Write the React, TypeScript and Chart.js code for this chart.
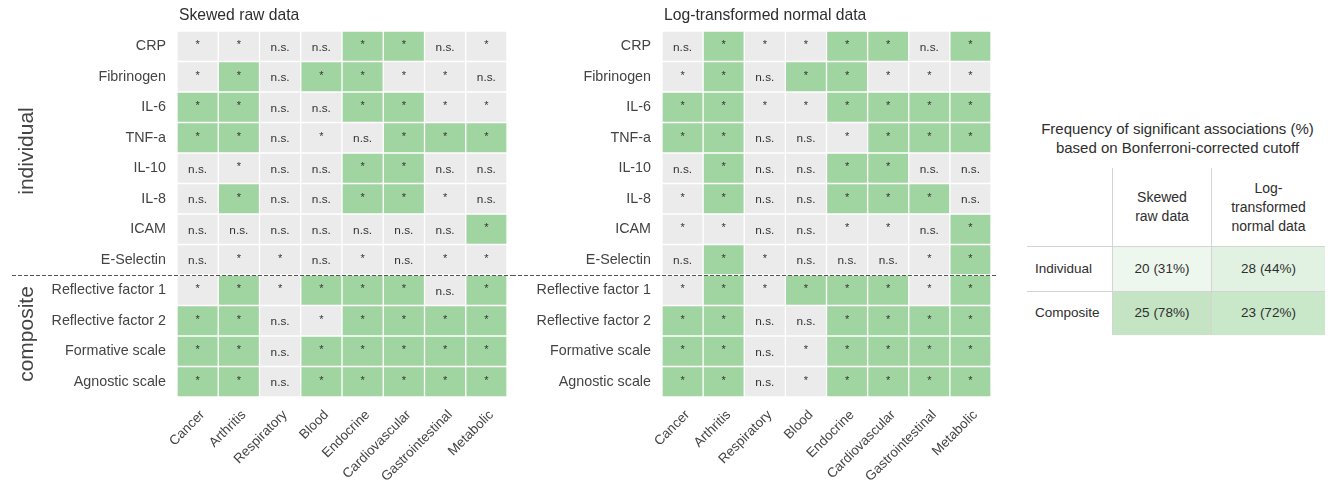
import React, { useEffect, useRef } from 'react';
import { Chart, registerables } from 'chart.js';

Chart.register(...registerables);

// Disease groups (columns) and inflammatory markers (rows)
const diseases = ['Cancer', 'Arthritis', 'Respiratory', 'Blood', 'Endocrine', 'Cardiovascular', 'Gastrointestinal', 'Metabolic'];
const markers = [
  'CRP', 'Fibrinogen', 'IL-6', 'TNF-a', 'IL-10', 'IL-8', 'ICAM', 'E-Selectin',
  'Reflective factor 1', 'Reflective factor 2', 'Formative scale', 'Agnostic scale',
];
const individualRows = 8; // first 8 rows are individual markers, the rest composites

// 2 = significant at Bonferroni-corrected cutoff, 1 = nominally significant (*), 0 = n.s.
const skewedRaw = [
  [1, 1, 0, 0, 2, 2, 0, 1],
  [1, 2, 0, 2, 2, 1, 1, 0],
  [2, 2, 0, 0, 2, 2, 1, 1],
  [2, 2, 0, 1, 0, 2, 2, 2],
  [0, 1, 0, 0, 2, 2, 0, 0],
  [0, 2, 0, 0, 2, 2, 1, 0],
  [0, 0, 0, 0, 0, 0, 0, 2],
  [0, 1, 1, 0, 1, 0, 1, 1],
  [1, 2, 1, 2, 2, 2, 0, 2],
  [2, 2, 0, 1, 2, 2, 2, 2],
  [2, 2, 0, 2, 2, 2, 2, 2],
  [2, 2, 0, 2, 2, 2, 2, 2],
];

const logNormal = [
  [0, 2, 1, 1, 2, 2, 0, 2],
  [1, 2, 0, 2, 2, 1, 1, 1],
  [2, 2, 1, 1, 2, 2, 2, 2],
  [2, 2, 0, 0, 1, 2, 2, 2],
  [0, 2, 0, 0, 2, 2, 0, 0],
  [1, 2, 0, 0, 2, 2, 2, 0],
  [1, 1, 0, 0, 1, 1, 0, 2],
  [0, 2, 1, 0, 0, 0, 1, 2],
  [1, 2, 1, 2, 2, 2, 1, 2],
  [2, 2, 0, 0, 2, 2, 2, 2],
  [2, 2, 0, 1, 2, 2, 2, 2],
  [2, 2, 0, 1, 2, 2, 2, 2],
];

const GREEN = '#a0d4a0';
const GRAY = '#ebebeb';
const FONT = '"Liberation Sans", Arial, Helvetica, sans-serif';

type HeatmapProps = {
  title: string;
  rows: number[][];
  left: number;
  width: number;
  axisWidth: number;
  showGroups: boolean;
  lineFrom: number;
};

function Heatmap({ title, rows, left, width, axisWidth, showGroups, lineFrom }: HeatmapProps) {
  const ref = useRef<HTMLCanvasElement | null>(null);

  useEffect(() => {
    if (!ref.current) return;

    const annotations = {
      id: 'annotations',
      afterDatasetsDraw(chart: any) {
        const { ctx, scales, chartArea } = chart;
        const x = scales.x;
        const y = scales.y;
        ctx.save();
        // cell labels
        ctx.fillStyle = '#333';
        ctx.textAlign = 'center';
        ctx.textBaseline = 'middle';
        rows.forEach((row, i) => {
          row.forEach((v, j) => {
            const cx = x.getPixelForValue(j + 0.5);
            const cy = y.getPixelForValue(i);
            if (v > 0) {
              ctx.font = `11px ${FONT}`;
              ctx.fillText('*', cx, cy - 1);
            } else {
              ctx.font = `11.8px ${FONT}`;
              ctx.fillText('n.s.', cx, cy + 1);
            }
          });
        });
        // dashed separator between individual and composite markers
        const sepY = Math.round((y.getPixelForValue(individualRows - 1) + y.getPixelForValue(individualRows)) / 2) + 0.5;
        ctx.strokeStyle = '#555';
        ctx.lineWidth = 1;
        ctx.setLineDash([4, 2]);
        ctx.beginPath();
        ctx.moveTo(lineFrom, sepY);
        ctx.lineTo(chart.width, sepY);
        ctx.stroke();
        ctx.setLineDash([]);
        // panel title
        ctx.fillStyle = '#2e2e2e';
        ctx.font = `15.7px ${FONT}`;
        ctx.textAlign = 'left';
        ctx.textBaseline = 'alphabetic';
        ctx.fillText(title, chartArea.left + 2, 20);
        // group labels
        if (showGroups) {
          ctx.fillStyle = '#444';
          ctx.font = `21px ${FONT}`;
          ctx.textAlign = 'center';
          const groups = [
            { text: 'individual', from: 0, to: individualRows - 1 },
            { text: 'composite', from: individualRows, to: markers.length - 1 },
          ];
          groups.forEach((g) => {
            const cy = (y.getPixelForValue(g.from) + y.getPixelForValue(g.to)) / 2;
            ctx.save();
            ctx.translate(33, cy - 2);
            ctx.rotate(-Math.PI / 2);
            ctx.fillText(g.text, 0, 0);
            ctx.restore();
          });
        }
        ctx.restore();
      },
    };

    const chart = new Chart(ref.current, {
      type: 'bar',
      data: {
        labels: markers,
        datasets: diseases.map((d, j) => ({
          label: d,
          data: markers.map(() => 1),
          backgroundColor: rows.map((r) => (r[j] === 2 ? GREEN : GRAY)),
          borderColor: 'rgba(255,255,255,0.4)',
          borderWidth: 1,
          borderSkipped: false,
          barPercentage: 1,
          categoryPercentage: 1,
        })),
      },
      options: {
        indexAxis: 'y',
        animation: false,
        responsive: false,
        devicePixelRatio: 1,
        layout: { padding: { top: 31, right: 5, left: 0, bottom: 0 } },
        plugins: {
          legend: { display: false },
          tooltip: { enabled: false },
          title: { display: false },
        },
        scales: {
          x: {
            type: 'linear',
            stacked: true,
            min: 0,
            max: diseases.length,
            grid: { display: false, drawTicks: false, tickLength: 0 },
            border: { display: false },
            afterBuildTicks: (s: any) => {
              s.ticks = diseases.map((_, i) => ({ value: i + 0.5 }));
            },
            afterFit: (s: any) => {
              s.height = 88;
            },
            ticks: {
              autoSkip: false,
              maxRotation: 45,
              minRotation: 45,
              padding: 10,
              labelOffset: 5,
              color: '#444',
              font: { family: FONT, size: 13.5 },
              callback: (v: any) => diseases[Math.floor(Number(v))],
            },
          },
          y: {
            type: 'category',
            stacked: true,
            grid: { display: false, drawTicks: false, tickLength: 0 },
            border: { display: false },
            afterFit: (s: any) => {
              s.width = axisWidth;
            },
            ticks: {
              padding: 11,
              color: '#444',
              font: { family: FONT, size: 14.3 },
            },
          },
        },
      },
      plugins: [annotations],
    } as any);

    return () => chart.destroy();
  }, [title, rows, axisWidth, showGroups, lineFrom]);

  return (
    <canvas
      ref={ref}
      width={width}
      height={485}
      style={{ position: 'absolute', left, top: 0, width, height: 485 }}
    />
  );
}

function countSignificant(rows: number[][], from: number, to: number) {
  let n = 0;
  let total = 0;
  for (let i = from; i < to; i++) {
    rows[i].forEach((v) => {
      total += 1;
      if (v === 2) n += 1;
    });
  }
  return { n, pct: Math.round((100 * n) / total) };
}

function shade(pct: number) {
  // blend white towards the heatmap green according to the share of significant cells
  const f = Math.max(0, Math.min(1, (pct - 12) / 106));
  const mix = (a: number) => Math.round(255 + (a - 255) * f);
  return `rgb(${mix(160)}, ${mix(212)}, ${mix(160)})`;
}

function SummaryTable() {
  const cols = [
    { label: ['Skewed', 'raw data'], rows: skewedRaw, x: 1112, w: 100 },
    { label: ['Log-', 'transformed', 'normal data'], rows: logNormal, x: 1212, w: 113 },
  ];
  const rowDefs = [
    { label: 'Individual', from: 0, to: individualRows, y: 246, h: 45 },
    { label: 'Composite', from: individualRows, to: markers.length, y: 291, h: 44 },
  ];
  const base: React.CSSProperties = {
    position: 'absolute',
    fontFamily: FONT,
    fontSize: 13.5,
    color: '#2e2e2e',
    boxSizing: 'border-box',
  };
  return (
    <>
      <div style={{ ...base, fontSize: 15, left: 1020, top: 119, width: 315, textAlign: 'center', lineHeight: '19px' }}>
        Frequency of significant associations (%)
        <br />
        based on Bonferroni-corrected cutoff
      </div>
      {cols.map((c) => (
        <div
          key={c.x}
          style={{
            ...base,
            fontSize: 14,
            left: c.x,
            top: 168,
            width: c.w,
            height: 78,
            display: 'flex',
            alignItems: 'center',
            justifyContent: 'center',
            textAlign: 'center',
            lineHeight: '19px',
          }}
        >
          <div>
            {c.label.map((l) => (
              <div key={l}>{l}</div>
            ))}
          </div>
        </div>
      ))}
      {rowDefs.map((r) => (
        <React.Fragment key={r.label}>
          <div style={{ ...base, left: 1035, top: r.y, height: r.h, lineHeight: `${r.h}px` }}>{r.label}</div>
          {cols.map((c) => {
            const s = countSignificant(c.rows, r.from, r.to);
            return (
              <div
                key={c.x}
                style={{
                  ...base,
                  left: c.x,
                  top: r.y,
                  width: c.w,
                  height: r.h,
                  background: shade(s.pct),
                  textAlign: 'center',
                  lineHeight: `${r.h}px`,
                }}
              >
                {`${s.n} (${s.pct}%)`}
              </div>
            );
          })}
        </React.Fragment>
      ))}
      {/* table rules */}
      <div style={{ position: 'absolute', left: 1027, top: 246, width: 298, height: 1, background: '#d4d4d4' }} />
      <div style={{ position: 'absolute', left: 1027, top: 291, width: 298, height: 1, background: '#d4d4d4' }} />
      <div style={{ position: 'absolute', left: 1112, top: 168, width: 1, height: 167, background: '#d4d4d4' }} />
      <div style={{ position: 'absolute', left: 1211, top: 168, width: 1, height: 167, background: '#d4d4d4' }} />
    </>
  );
}

export default function App() {
  return (
    <div style={{ position: 'absolute', left: 0, top: 0, width: 1328, height: 485, background: '#fff', overflow: 'hidden' }}>
      <Heatmap title="Skewed raw data" rows={skewedRaw} left={0} width={512} axisWidth={177} showGroups={true} lineFrom={12} />
      <Heatmap title="Log-transformed normal data" rows={logNormal} left={512} width={484} axisWidth={150} showGroups={false} lineFrom={0} />
      <SummaryTable />
    </div>
  );
}
